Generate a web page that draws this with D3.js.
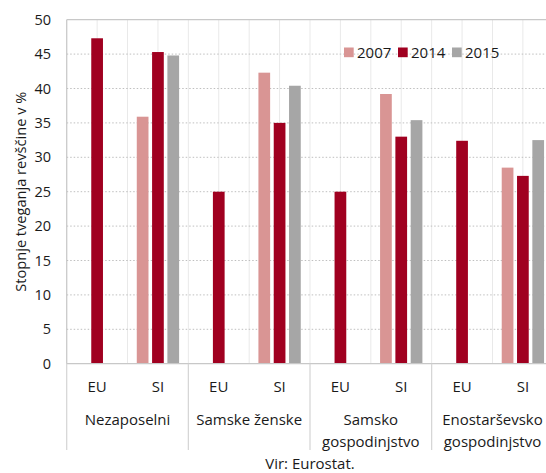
<!DOCTYPE html>
<html>
<head>
<meta charset="utf-8">
<script src="https://cdn.jsdelivr.net/npm/d3@7"></script>
<style>
  html, body { margin: 0; padding: 0; background: #fff; }
  svg { display: block; }
  text { font-family: "Open Sans", "Noto Sans", sans-serif; fill: #1a1a1a; }
</style>
</head>
<body>
<svg id="chart" width="546" height="473"></svg>
<script>
// ---- data ----
const groups = [["Nezaposelni"], ["Samske ženske"], ["Samsko", "gospodinjstvo"], ["Enostarševsko", "gospodinjstvo"]];
const regions = ["EU", "SI"];
const series = ["2007", "2014", "2015"];
const values2007 = [null, 35.9, null, 42.3, null, 39.2, null, 28.5];
const values2014 = [47.3, 45.3, 25.0, 35.0, 25.0, 33.0, 32.4, 27.3];
const values2015 = [null, 44.8, null, 40.4, null, 35.4, null, 32.5];
const yTicks = [0, 5, 10, 15, 20, 25, 30, 35, 40, 45, 50];
const yTitle = "Stopnje tveganja revščine v %";
const source = "Vir: Eurostat.";
const colors = { "2007": "#d99594", "2014": "#a00020", "2015": "#a6a6a6" };

const seriesValues = { "2007": values2007, "2014": values2014, "2015": values2015 };

// ---- layout ----
const svg = d3.select("#chart");
const pLeft = 66.7, pRight = 553.3, pTop = 19.7, pBottom = 363.7;
const fs = 15;

const y = d3.scaleLinear().domain([0, 50]).range([pBottom, pTop]);
const gx = d3.scaleBand().domain(d3.range(groups.length)).range([pLeft, pRight]).padding(0);
const rx = d3.scaleBand().domain(regions).range([0, gx.bandwidth()]).padding(0);
const sx = d3.scaleBand().domain(series).range([0, rx.bandwidth()]).paddingInner(0.235).paddingOuter(0.604);

// cells
const cells = [];
groups.forEach((g, gi) => regions.forEach((r, ri) => cells.push({ gi, r, idx: gi * regions.length + ri })));
const cellX = c => gx(c.gi) + rx(c.r);

// vertical gridlines (each half band)
const vLines = [];
cells.forEach(c => { vLines.push(cellX(c)); vLines.push(cellX(c) + rx.bandwidth() / 2); });
svg.append("g").selectAll("line").data(vLines).join("line")
  .attr("x1", d => d).attr("x2", d => d).attr("y1", pTop).attr("y2", pBottom)
  .attr("stroke", "#e9e9e9").attr("stroke-width", 1);

// horizontal dotted gridlines
svg.append("g").selectAll("line").data(yTicks.filter(t => t > 0 && t < 50)).join("line")
  .attr("x1", pLeft).attr("x2", 546).attr("y1", d => y(d)).attr("y2", d => y(d))
  .attr("stroke", "#bfbfbf").attr("stroke-width", 1).attr("stroke-dasharray", "1.5,2");

// plot border (top, left)
svg.append("line").attr("x1", pLeft).attr("x2", 546).attr("y1", pTop).attr("y2", pTop)
  .attr("stroke", "#c8c8c8").attr("stroke-width", 1.2);
svg.append("line").attr("x1", pLeft).attr("x2", pLeft).attr("y1", pTop).attr("y2", pBottom)
  .attr("stroke", "#c8c8c8").attr("stroke-width", 1.2);

// bars
series.forEach(s => {
  const data = cells.map(c => ({ c, v: seriesValues[s][c.idx] })).filter(d => d.v != null);
  svg.append("g").selectAll("rect").data(data).join("rect")
    .attr("x", d => cellX(d.c) + sx(s))
    .attr("width", sx.bandwidth())
    .attr("y", d => y(d.v))
    .attr("height", d => y(0) - y(d.v))
    .attr("fill", colors[s]);
});

// x axis baseline
svg.append("line").attr("x1", pLeft).attr("x2", 546).attr("y1", pBottom).attr("y2", pBottom)
  .attr("stroke", "#c8c8c8").attr("stroke-width", 1.2);

// group dividers below axis
const dividers = d3.range(groups.length).map(i => gx(i)).concat([pRight]);
svg.append("g").selectAll("line").data(dividers).join("line")
  .attr("x1", d => d).attr("x2", d => d).attr("y1", pBottom).attr("y2", 450)
  .attr("stroke", "#d4d4d4").attr("stroke-width", 1.2);

// y axis (tick labels)
const yAxis = d3.axisLeft(y).tickValues(yTicks).tickSize(0).tickPadding(0);
const yg = svg.append("g").attr("transform", `translate(${51},0)`).call(yAxis);
yg.select(".domain").remove();
yg.selectAll("text").attr("font-size", 14.5).attr("font-family", "\"Open Sans\", sans-serif").attr("fill", "#1a1a1a");

// y title
svg.append("text").attr("transform", `translate(26,${(pTop + pBottom) / 2}) rotate(-90)`)
  .attr("text-anchor", "middle").attr("font-size", 14.6).text(yTitle);

// region labels
svg.append("g").selectAll("text").data(cells).join("text")
  .attr("x", c => cellX(c) + rx.bandwidth() / 2).attr("y", 392)
  .attr("text-anchor", "middle").attr("font-size", fs).text(c => c.r);

// group labels
const gl = svg.append("g").selectAll("text").data(groups).join("text")
  .attr("text-anchor", "middle").attr("font-size", fs)
  .attr("x", (d, i) => gx(i) + gx.bandwidth() / 2).attr("y", 425);
gl.selectAll("tspan").data(d => d).join("tspan")
  .attr("x", function () { return d3.select(this.parentNode).attr("x"); })
  .attr("dy", (d, i) => i === 0 ? 0 : 22).text(d => d);

// source
svg.append("text").attr("x", (pLeft + pRight) / 2).attr("y", 469)
  .attr("text-anchor", "middle").attr("font-size", fs).text(source);

// legend
const legendX = [344, 398, 452];
const lg = svg.append("g").selectAll("g").data(series).join("g")
  .attr("transform", (d, i) => `translate(${legendX[i]},${47.5})`);
lg.append("rect").attr("width", 9.7).attr("height", 9.7).attr("fill", d => colors[d]);
lg.append("text").attr("x", 13).attr("y", 10.3).attr("font-size", fs).text(d => d);
</script>
</body>
</html>
